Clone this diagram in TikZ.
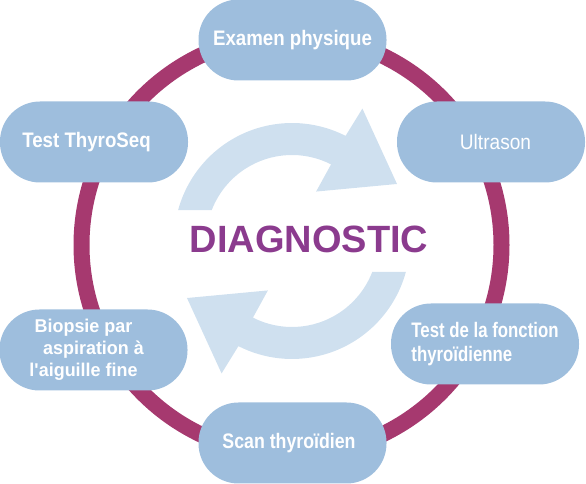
\documentclass[tikz,border=0pt]{standalone}
\usepackage{fontspec}
\setmainfont{Liberation Sans}
\definecolor{ringmauve}{HTML}{A6396F}
\definecolor{stageblue}{HTML}{9EBEDD}
\definecolor{cycleblue}{HTML}{CFE0EF}
\definecolor{titlepurple}{HTML}{8B3B8E}
\newcommand{\squeeze}[1]{\addfontfeatures{FakeStretch=#1}}
\tikzset{
  stage/.style={fill=stageblue, rounded corners=40pt, minimum width=188pt, minimum height=81pt,
    inner sep=0pt, text=white, align=center},
  cyclearrow/.style={fill=cycleblue}
}
\begin{document}
\begin{tikzpicture}[x=1pt, y=1pt, line join=round, line cap=round]
	\useasboundingbox (0,0) rectangle (586,484);
	\draw[ringmauve, line width=16pt] (291.5,239) circle[radius=210];
	% fleches du cycle
	\foreach \r in {0,180}{
		\fill[cyclearrow, shift={(292,243)}, rotate=\r] (164.8:118) arc[start angle=164.8, end angle=63, radius=118]
			-- (62:150) -- (28.5:119.5) -- (64:55) -- (63:86) arc[start angle=63, end angle=158.9, radius=86] -- cycle;
	}
	\node[stage, font={\bfseries\fontsize{21}{24}\selectfont\squeeze{0.89}}] (exam) at (292.5,444) {Examen physique};
	\node[stage, font={\fontsize{21}{24}\selectfont\squeeze{0.91}}] (ultra) at (491,342) {\hspace*{9pt}Ultrason};
	\node[stage, font={\bfseries\fontsize{21}{24}\selectfont\squeeze{0.89}}] (thyroseq) at (94,342) {Test ThyroSeq\hspace*{15pt}};
	\node[stage, font={\bfseries\fontsize{18.5}{22}\selectfont\squeeze{0.97}}] (biopsie) at (93.5,134)
		{Biopsie par\hspace*{20pt}\\aspiration à\hspace*{20pt}\\l\textquotesingle aiguille fine\hspace*{20pt}};
	\node[stage, align=left, font={\bfseries\fontsize{21}{24}\selectfont\squeeze{0.8}}] (fonction) at (485,140) {Test de la fonction\\thyroïdienne};
	\node[stage, font={\bfseries\fontsize{21}{24}\selectfont\squeeze{0.845}}] (scan) at (292.5,41) {Scan thyroïdien\hspace*{7pt}};
	\node[font=\bfseries\fontsize{38}{40}\selectfont, text=titlepurple] (titre) at (309,244.5) {DIAGNOSTIC};
\end{tikzpicture}
\end{document}
